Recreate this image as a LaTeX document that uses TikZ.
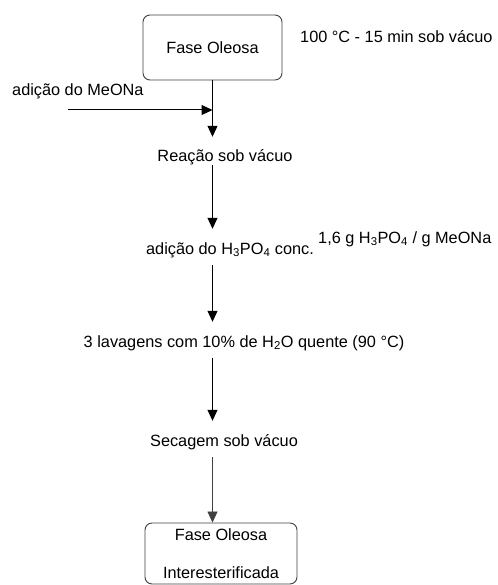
\documentclass[tikz,border=0pt]{standalone}
\usepackage{fontspec}
\setmainfont{Liberation Sans}
\usetikzlibrary{arrows.meta,positioning,calc}

\begin{document}
\begin{tikzpicture}[x=1pt, y=-1pt,
  font=\fontsize{16.3}{19}\selectfont,
  etapa/.style={draw=black!75, fill=white, rounded corners=7pt,
                line width=0.9pt, align=center},
  rotulo/.style={inner sep=0pt, text height=25pt, text depth=3pt, anchor=base},
  nota/.style={inner sep=0pt, anchor=base west},
  arr/.style={-{Triangle[width=10pt,length=11pt]}, line width=1pt, draw=black},
]
\useasboundingbox (0,0) rectangle (497,585);

% Boxes
\node[etapa, minimum width=139pt, minimum height=65pt] (oleo) at (212.5,47.5) {Fase Oleosa};
\node[etapa, minimum width=152pt, minimum height=61pt] (final) at (221,553.5)
  {Fase Oleosa\\[19pt]Interesterificada};

% Steps
\node[rotulo] (reacao) at (225,162) {Reação sob vácuo};
\node[rotulo] (acido) at (230,254) {adição do H\textsubscript{3}PO\textsubscript{4} conc.};
\node[rotulo] (lavagem) at (244,347) {3 lavagens com 10\% de H\textsubscript{2}O quente (90 °C)};
\node[rotulo] (secagem) at (224,446) {Secagem sob vácuo};

% Side notes
\node[nota] (vacuo) at (300,43) {100 °C - 15 min sob vácuo};
\node[nota] (meona) at (12,96) {adição do MeONa};
\node[nota] (razao) at (318,243) {1,6 g H\textsubscript{3}PO\textsubscript{4} / g MeONa};

% MeONa feed
\coordinate (entrada) at (68,110);
\coordinate (juncao) at (oleo.south |- entrada);
\draw[arr] (entrada) -- (juncao);

% Main flow
\draw[arr] (oleo.south) -- (oleo.south |- reacao.north);
\draw[arr] (oleo.south |- reacao.south) -- (oleo.south |- acido.north);
\draw[arr, shorten <=8pt] (oleo.south |- acido.south) -- (oleo.south |- lavagem.north);
\draw[arr, shorten <=8pt] (oleo.south |- lavagem.south) -- (oleo.south |- secagem.north);
\draw[arr, line width=0.7pt, draw=black!75, shorten <=8pt] (oleo.south |- secagem.south) -- (oleo.south |- final.north);

\end{tikzpicture}
\end{document}
